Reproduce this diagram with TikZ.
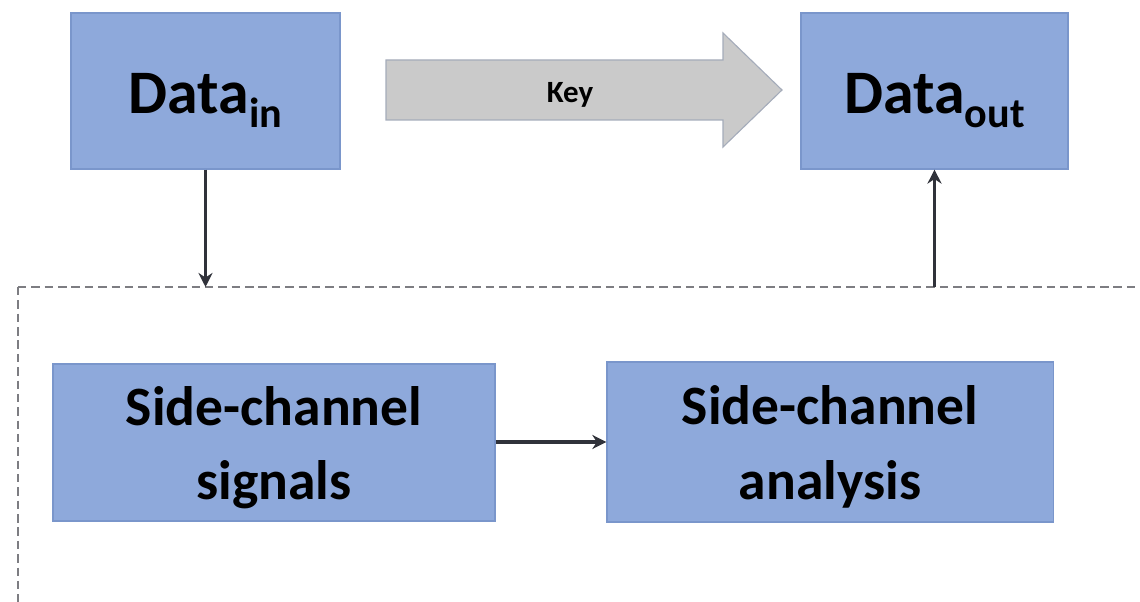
\documentclass[tikz,border=0pt]{standalone}
\usepackage{fontspec}
\setmainfont{Carlito}
\usepackage{xcolor}
\usetikzlibrary{arrows.meta,positioning}
\definecolor{boxblue}{RGB}{142,169,219}
\definecolor{boxedge}{RGB}{122,150,203}
\definecolor{keygray}{RGB}{202,202,202}
\definecolor{keyedge}{RGB}{165,172,186}
\definecolor{linkgray}{RGB}{48,50,58}
\definecolor{framegray}{RGB}{125,125,130}
\newcommand{\lowsub}[1]{\raisebox{-10pt}{\fontsize{30}{30}\selectfont #1}}

\begin{document}
\begin{tikzpicture}[x=0.025cm,y=-0.025cm,>=Stealth,
  blk/.style={draw=boxedge,fill=boxblue,line width=0.8pt,inner sep=0pt,align=center,font=\bfseries},
  link/.style={draw=linkgray,line width=2.4pt,-{Stealth[length=10pt,width=10pt]}}]
\useasboundingbox (0,0) rectangle (1140,602);
\clip (0,0) rectangle (1140,602);
% outer dashed frame, runs past the picture edge
\coordinate (ftop) at (18,287);
\draw[framegray,line width=0.9pt,dash pattern=on 6pt off 3.5pt](ftop)--(1160,287)
(ftop)--(18,640);
% top row
\node[blk,minimum width=6.725cm,minimum height=3.9cm,font=\bfseries\fontsize{44}{44}\selectfont](din)at(205.5,91){\rule{0pt}{42pt}Data\lowsub{in}};
\node[blk,minimum width=6.675cm,minimum height=3.9cm,font=\bfseries\fontsize{44}{44}\selectfont](dout)at(934.5,91){\rule{0pt}{42pt}Data\lowsub{out}};
\draw[keyedge,fill=keygray,line width=0.8pt](386,60)--(723,60)--(723,33)--(782,90)--(723,147)--(723,120)--(386,120)--cycle;
\node[font=\bfseries\fontsize{22}{22}\selectfont](key)at(570,90){\rule{0pt}{21pt}Key};
% bottom row
\node[blk,minimum width=11.05cm,minimum height=3.925cm,font=\bfseries\fontsize{39.5}{53}\selectfont](scs)at(274,442.5){\rule{0pt}{35pt}Side-channel\\signals};
\node[blk,minimum width=11.15cm,minimum height=4cm,font=\bfseries\fontsize{39.5}{53}\selectfont](sca)at(830,442){\rule{0pt}{35pt}Side-channel\\analysis};
% connectors
\draw[link](din.south)--(din.south|-ftop);
\draw[link](dout.south|-ftop)--(dout.south);
\draw[link](scs.east|-sca.west)--(sca.west);
\end{tikzpicture}
\end{document}
